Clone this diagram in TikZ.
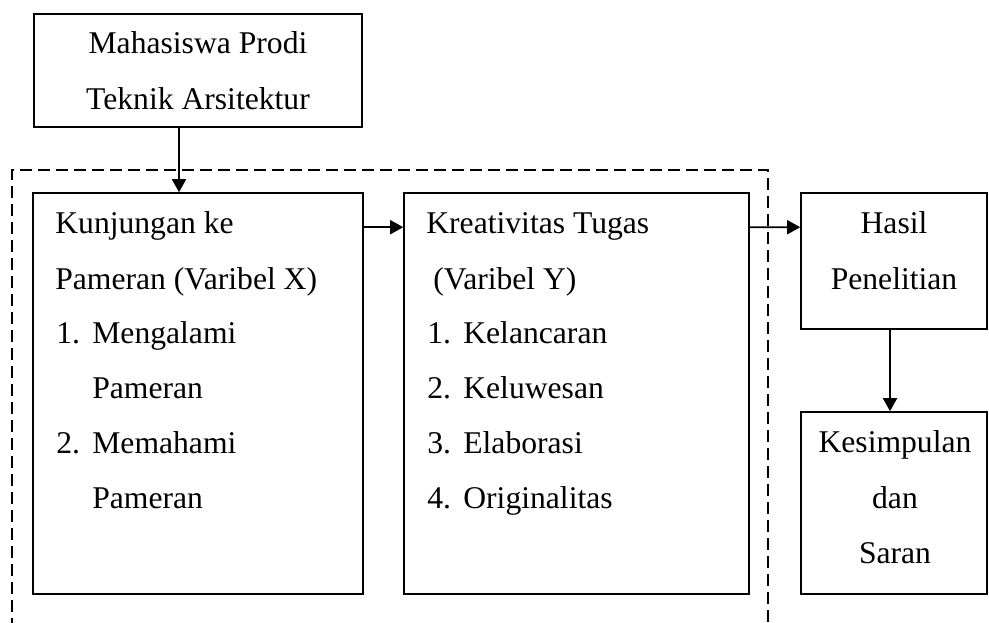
\documentclass[tikz,border=0pt]{standalone}
\usepackage{fontspec}
\setmainfont{Liberation Serif}
\usetikzlibrary{positioning,arrows.meta,calc}

\begin{document}
\begin{tikzpicture}[
    box/.style={draw, line width=0.9pt, inner sep=0pt},
    txt/.style={inner sep=0pt, font=\fontsize{18}{22}\selectfont},
    arr/.style={-{Triangle[length=0.26cm,width=0.28cm]}, line width=1pt},
    frame/.style={dash pattern=on 0.24cm off 0.12cm, line width=0.7pt},
]
\useasboundingbox (0,0) rectangle (19.78,-12.44);

% boxes
\node[box, minimum width=6.56cm, minimum height=2.26cm] (mhs) at (3.96,-1.41) {};
\node[box, minimum width=6.60cm, minimum height=8.02cm] (kunj) at (3.96,-7.87) {};
\node[box, minimum width=6.90cm, minimum height=8.02cm] (krea) at (11.53,-7.87) {};
\node[box, minimum width=3.72cm, minimum height=2.72cm] (hasil) at (17.88,-5.22) {};
\node[box, minimum width=3.72cm, minimum height=3.64cm] (kesim) at (17.88,-10.06) {};

% dashed frame round X and Y
\draw[frame] (0.24,-12.6) |- (15.36,-3.40) -- (15.36,-12.6);

% texts
\node[txt, anchor=base] (mhs1) at (3.96,-1.06) {Mahasiswa Prodi};
\node[txt, anchor=base] (mhs2) at (3.96,-2.18) {Teknik Arsitektur};

\node[txt, anchor=base west] (kx1) at (1.10,-4.66) {Kunjungan ke};
\node[txt, anchor=base west] (kx2) at (1.10,-5.78) {Pameran (Varibel X)};
\foreach \n/\a [count=\i] in {1/Mengalami, 2/Memahami} {
  \node[txt, anchor=base west] (kxn\i) at (1.12,{-6.86-2.2*(\i-1)}) {\n.};
  \node[txt, anchor=base west] (kxa\i) at (1.84,{-6.86-2.2*(\i-1)}) {\a};
  \node[txt, anchor=base west] (kxb\i) at (1.84,{-7.96-2.2*(\i-1)}) {Pameran};
}

\node[txt, anchor=base west] (ky1) at (8.52,-4.66) {Kreativitas Tugas};
\node[txt, anchor=base west] (ky2) at (8.66,-5.78) {(Varibel Y)};
\foreach \a [count=\i] in {Kelancaran, Keluwesan, Elaborasi, Originalitas} {
  \node[txt, anchor=base west] (kyn\i) at (8.54,{-6.86-1.1*(\i-1)}) {\i.};
  \node[txt, anchor=base west] (kya\i) at (9.26,{-6.86-1.1*(\i-1)}) {\a};
}

\node[txt, anchor=base] (has1) at (17.88,-4.66) {Hasil};
\node[txt, anchor=base] (has2) at (17.88,-5.78) {Penelitian};

\node[txt, anchor=base] (kes1) at (17.90,-9.04) {Kesimpulan};
\node[txt, anchor=base] (kes2) at (17.90,-10.16) {dan};
\node[txt, anchor=base] (kes3) at (17.90,-11.26) {Saran};

% arrows
\coordinate (down) at (3.58,0);
\draw[arr] (mhs.south -| down) -- (kunj.north -| down);
\draw[arr] ([yshift=-0.7cm]kunj.north east) -- ([yshift=-0.7cm]krea.north west);
\draw[arr] ([yshift=-0.7cm]krea.north east) -- ([yshift=-0.7cm]hasil.north west);
\draw[arr] ([xshift=-0.08cm]hasil.south) -- ([xshift=-0.08cm]kesim.north);
\end{tikzpicture}
\end{document}
